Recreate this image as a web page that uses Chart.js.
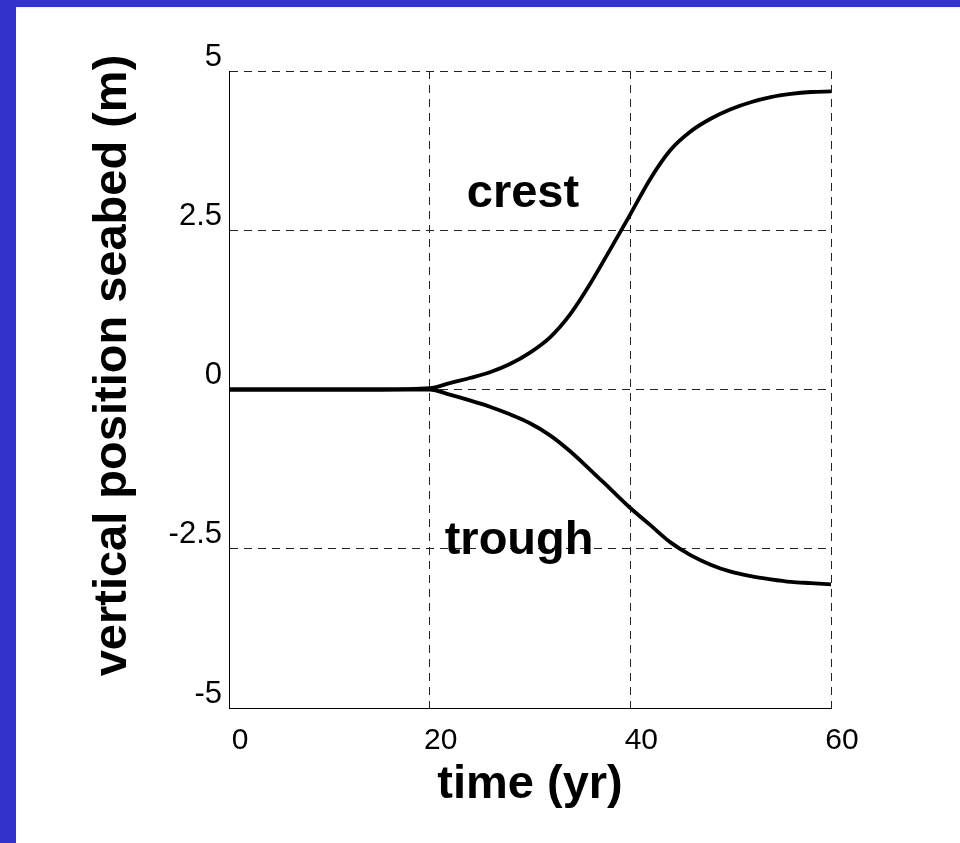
<!DOCTYPE html>
<html><head><meta charset="utf-8">
<script src="https://cdn.jsdelivr.net/npm/chart.js@4"></script>
<style>
html,body{margin:0;padding:0;background:#3333cc;width:960px;height:843px;overflow:hidden}
#wrap{position:absolute;left:16px;top:7px;width:944px;height:836px;background:#fff}
canvas{display:block}
</style></head><body>
<div id="wrap"><canvas id="c" width="944" height="836"></canvas></div>
<script>
const timeYr = [0,5,10,15,20,22,24,26,28,30,32,34,36,38,40,42,44,46,48,50,52,54,56,58,60];
const crest  = [0,0,0,0,0.02,0.10,0.18,0.27,0.40,0.58,0.82,1.18,1.66,2.20,2.75,3.31,3.76,4.05,4.25,4.40,4.51,4.59,4.64,4.67,4.68];
const trough = [0,0,0,0,0,-0.08,-0.17,-0.27,-0.39,-0.53,-0.72,-0.97,-1.26,-1.56,-1.86,-2.13,-2.40,-2.60,-2.75,-2.86,-2.93,-2.98,-3.02,-3.04,-3.06];
const xTickValues = [0,20,40,60];
const xTickLabels = ['0','20','40','60'];
const yTickValues = [-5,-2.5,0,2.5,5];
const yTickLabels = ['-5','-2.5','0','2.5','5'];
const xTitle = 'time (yr)';
const yTitle = 'vertical position seabed (m)';
const curveLabels = ['crest','trough'];
const curveLabelAnchors = [{x:23.7,y:2.87},{x:21.5,y:-2.58}];

const FONT = '"Liberation Sans", Arial, sans-serif';

const toPts = (ys) => timeYr.map((t,i)=>({x:t,y:ys[i]}));

const labelPlugin = {
  id:'curveLabels',
  afterDatasetsDraw(chart){
    const {ctx, chartArea, scales:{x,y}} = chart;
    ctx.save();
    ctx.font = 'bold 47px ' + FONT;
    ctx.fillStyle = '#000';
    ctx.textAlign = 'left';
    ctx.textBaseline = 'alphabetic';
    curveLabels.forEach((txt,i)=>{
      const a = curveLabelAnchors[i];
      ctx.fillText(txt, x.getPixelForValue(a.x), y.getPixelForValue(a.y));
    });
    // y-axis title (rotated)
    ctx.translate(chartArea.left - 116, (chartArea.top + chartArea.bottom)/2 - 24);
    ctx.rotate(-Math.PI/2);
    ctx.textAlign = 'center';
    ctx.textBaseline = 'middle';
    ctx.fillText(yTitle, 0, 0);
    ctx.restore();
  }
};

const gridCommon = {color:'#222', lineWidth:1, drawTicks:false};

new Chart(document.getElementById('c'), {
  type:'line',
  data:{
    datasets:[
      {label:curveLabels[0], data:toPts(crest), borderColor:'#000', borderWidth:3.8, pointRadius:0, cubicInterpolationMode:'monotone', fill:false},
      {label:curveLabels[1], data:toPts(trough), borderColor:'#000', borderWidth:3.8, pointRadius:0, cubicInterpolationMode:'monotone', fill:false}
    ]
  },
  options:{
    responsive:false, animation:false, devicePixelRatio:1,
    layout:{padding:{left:0, top:64, right:129, bottom:0}},
    plugins:{legend:{display:false}, tooltip:{enabled:false}},
    scales:{
      x:{
        type:'linear', min:0, max:60,
        afterFit(s){ s.height = 135; },
        afterBuildTicks(s){ s.ticks = xTickValues.map(v=>({value:v})); },
        ticks:{
          callback:(v)=>xTickLabels[xTickValues.indexOf(v)],
          font:{family:FONT, size:30}, color:'#000', padding:15, labelOffset:11, maxRotation:0, autoSkip:false
        },
        grid:gridCommon,
        border:{display:true, color:'#000', width:1, dash:[8,6]},
        title:{display:true, text:xTitle, font:{family:FONT, size:47, weight:'bold'}, color:'#000', padding:{top:0,bottom:30}}
      },
      y:{
        type:'linear', min:-5, max:5,
        afterFit(s){ s.width = 213; },
        afterBuildTicks(s){ s.ticks = yTickValues.map(v=>({value:v})); },
        ticks:{
          callback:(v)=>yTickLabels[yTickValues.indexOf(v)],
          font:{family:FONT, size:31}, color:'#000', padding:7, labelOffset:-14, autoSkip:false
        },
        grid:gridCommon,
        border:{display:true, color:'#000', width:1, dash:[8,6]},
        title:{display:false, text:yTitle}
      }
    }
  },
  plugins:[labelPlugin]
});
</script>
</body></html>
